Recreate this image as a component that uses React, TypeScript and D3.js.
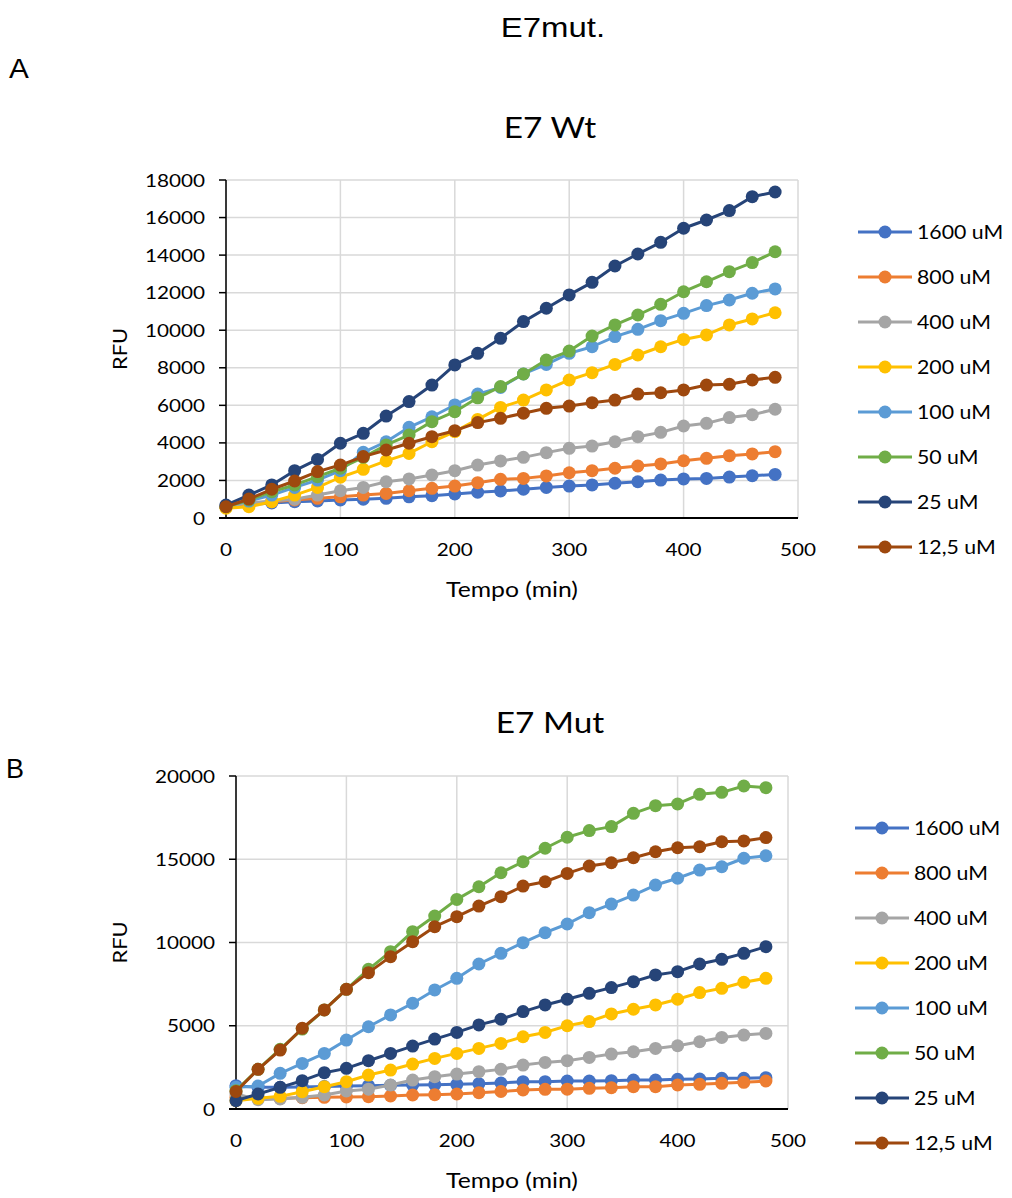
import React from "react";
import * as d3 from "d3";

const times = [0, 20, 40, 60, 80, 100, 120, 140, 160, 180, 200, 220, 240, 260, 280, 300, 320, 340, 360, 380, 400, 420, 440, 460, 480];
const seriesNames = ["1600 uM", "800 uM", "400 uM", "200 uM", "100 uM", "50 uM", "25 uM", "12,5 uM"];
const seriesColors = ["#4472C4", "#ED7D31", "#A5A5A5", "#FFC000", "#5B9BD5", "#70AD47", "#264478", "#9E480E"];

// E7 Wt
const wt1600 = [600, 720, 800, 870, 905, 960, 1000, 1050, 1130, 1190, 1280, 1370, 1440, 1530, 1630, 1700, 1760, 1850, 1930, 2020, 2080, 2110, 2180, 2250, 2320];
const wt800 = [620, 760, 870, 960, 1050, 1130, 1220, 1310, 1450, 1580, 1700, 1880, 2060, 2110, 2240, 2410, 2520, 2650, 2770, 2880, 3050, 3180, 3320, 3410, 3530];
const wt400 = [620, 800, 900, 1000, 1220, 1450, 1630, 1930, 2080, 2290, 2520, 2820, 3040, 3230, 3480, 3710, 3830, 4060, 4330, 4560, 4900, 5040, 5350, 5500, 5790];
const wt200 = [520, 600, 870, 1220, 1630, 2170, 2590, 3040, 3440, 4060, 4600, 5250, 5890, 6280, 6820, 7350, 7740, 8180, 8680, 9120, 9510, 9750, 10280, 10600, 10930];
const wt100 = [650, 900, 1220, 1630, 2020, 2520, 3500, 4060, 4830, 5390, 6020, 6600, 6950, 7670, 8180, 8770, 9120, 9660, 10050, 10510, 10900, 11310, 11610, 11970, 12200];
const wt50 = [600, 960, 1400, 1760, 2200, 2650, 3230, 3890, 4420, 5130, 5660, 6400, 7000, 7670, 8410, 8890, 9690, 10280, 10810, 11380, 12050, 12580, 13120, 13600, 14180];
const wt25 = [690, 1220, 1760, 2520, 3120, 3980, 4510, 5430, 6200, 7080, 8150, 8770, 9570, 10460, 11170, 11880, 12550, 13420, 14060, 14680, 15430, 15870, 16370, 17110, 17360];
const wt12 = [600, 1010, 1530, 1970, 2470, 2820, 3270, 3620, 3980, 4330, 4650, 5080, 5310, 5580, 5840, 5960, 6140, 6280, 6600, 6670, 6820, 7080, 7120, 7350, 7490];

// E7 Mut
const mut1600 = [1400, 1300, 1300, 1320, 1350, 1380, 1400, 1420, 1440, 1460, 1480, 1520, 1560, 1640, 1640, 1680, 1680, 1700, 1740, 1740, 1780, 1800, 1840, 1840, 1880];
const mut800 = [700, 640, 640, 680, 700, 720, 740, 780, 840, 860, 900, 980, 1050, 1140, 1180, 1190, 1240, 1280, 1340, 1340, 1440, 1480, 1540, 1600, 1680];
const mut400 = [900, 560, 600, 700, 840, 1080, 1190, 1440, 1740, 1940, 2100, 2240, 2380, 2640, 2800, 2900, 3100, 3300, 3440, 3640, 3800, 4040, 4300, 4440, 4540];
const mut200 = [500, 640, 760, 1040, 1340, 1640, 2040, 2340, 2700, 3040, 3340, 3640, 3940, 4340, 4600, 5000, 5250, 5710, 5990, 6250, 6590, 6990, 7250, 7610, 7850];
const mut100 = [1300, 1380, 2140, 2740, 3340, 4140, 4940, 5650, 6350, 7150, 7850, 8710, 9350, 9990, 10590, 11110, 11790, 12310, 12850, 13450, 13860, 14350, 14550, 15060, 15210];
const mut50 = [1100, 2380, 3590, 4800, 5950, 7190, 8390, 9450, 10650, 11590, 12590, 13350, 14190, 14850, 15660, 16320, 16720, 16960, 17760, 18220, 18320, 18900, 19020, 19400, 19300];
const mut25 = [500, 900, 1300, 1700, 2180, 2440, 2900, 3340, 3780, 4200, 4600, 5050, 5390, 5850, 6250, 6590, 6950, 7290, 7650, 8050, 8250, 8710, 8990, 9350, 9750];
const mut12 = [1050, 2380, 3540, 4850, 5950, 7190, 8190, 9150, 10050, 10950, 11550, 12190, 12750, 13390, 13650, 14150, 14590, 14790, 15090, 15450, 15690, 15750, 16050, 16100, 16300];

const xTicks = [0, 100, 200, 300, 400, 500];
const yTicksA = [0, 2000, 4000, 6000, 8000, 10000, 12000, 14000, 16000, 18000];
const yTicksB = [0, 5000, 10000, 15000, 20000];

const mainTitle = "E7mut.";
const titleA = "E7 Wt";
const titleB = "E7 Mut";
const xLabel = "Tempo (min)";
const yLabel = "RFU";

const FONT = "Lato, 'Open Sans', sans-serif";
const ARIAL = "'Liberation Sans', Arial, sans-serif";
const SX = 1.15;

function T({ x, y, size, anchor = "start", family = FONT, sx = SX, rotate = 0, children }: any) {
  return (
    <text
      transform={`translate(${x},${y}) rotate(${rotate}) scale(${sx},1)`}
      textAnchor={anchor}
      fontFamily={family}
      fontSize={size}
      fill="#000"
    >
      {children}
    </text>
  );
}

type ChartProps = {
  title: string;
  data: number[][];
  yTicks: number[];
  yMax: number;
  x0: number; x1: number; y0: number; y1: number;
  titleY: number;
  legendX: number; legendY: number;
};

function Chart({ title, data, yTicks, yMax, x0, x1, y0, y1, titleY, legendX, legendY }: ChartProps) {
  const x = d3.scaleLinear().domain([0, 500]).range([x0, x1]);
  const y = d3.scaleLinear().domain([0, yMax]).range([y1, y0]);
  const line = d3.line<number>().x((_, i) => x(times[i])).y((v) => y(v));
  const cx = (x0 + x1) / 2;
  return (
    <g>
      <T x={550} y={titleY} size={29} anchor="middle">{title}</T>
      {yTicks.map((t) => (
        <line key={"gy" + t} x1={x0} x2={x1} y1={y(t)} y2={y(t)} stroke="#d9d9d9" strokeWidth={1.5} />
      ))}
      {xTicks.map((t) => (
        <line key={"gx" + t} x1={x(t)} x2={x(t)} y1={y0} y2={y1} stroke="#d9d9d9" strokeWidth={1.5} />
      ))}
      <line x1={x0} x2={x0} y1={y0} y2={y1} stroke="#000" strokeWidth={1.5} />
      <line x1={x0 - 7} x2={x1} y1={y1} y2={y1} stroke="#000" strokeWidth={2} />
      {yTicks.map((t) => (
        <g key={"ty" + t}>
          <line x1={x0 - 7} x2={x0} y1={y(t)} y2={y(t)} stroke="#000" strokeWidth={1.5} />
          <T x={x0 - 21} y={y(t) + 6.5} size={18} anchor="end">{t}</T>
        </g>
      ))}
      {xTicks.map((t) => (
        <T key={"tx" + t} x={x(t)} y={y1 + 38} size={18} anchor="middle">{t}</T>
      ))}
      <T x={cx} y={y1 + 79} size={21.5} anchor="middle">{xLabel}</T>
      <T x={127} y={(y0 + y1) / 2} size={19} anchor="middle" rotate={-90}>{yLabel}</T>
      {data.map((s, k) => (
        <g key={"s" + k}>
          <path d={line(s) || ""} fill="none" stroke={seriesColors[k]} strokeWidth={3} strokeLinejoin="round" />
          {s.map((v, i) => (
            <circle key={i} cx={x(times[i])} cy={y(v)} r={6.5} fill={seriesColors[k]} />
          ))}
        </g>
      ))}
      {seriesNames.map((n, k) => (
        <g key={"l" + k} transform={`translate(${legendX},${legendY + k * 45})`}>
          <line x1={0} x2={54} y1={0} y2={0} stroke={seriesColors[k]} strokeWidth={3} />
          <circle cx={27} cy={0} r={6.5} fill={seriesColors[k]} />
          <T x={59} y={6.5} size={18.5}>{n}</T>
        </g>
      ))}
    </g>
  );
}

export default function App() {
  const dataA = [wt1600, wt800, wt400, wt200, wt100, wt50, wt25, wt12];
  const dataB = [mut1600, mut800, mut400, mut200, mut100, mut50, mut25, mut12];
  return (
    <svg width={1012} height={1198} style={{ position: "absolute", left: 0, top: 0, background: "#fff" }}>
      <rect width={1012} height={1198} fill="#fff" />
      <T x={553} y={37} size={27} anchor="middle" family={ARIAL} sx={1.22}>{mainTitle}</T>
      <T x={9} y={78} size={27} family={ARIAL} sx={1.1}>A</T>
      <T x={6} y={778} size={27} family={ARIAL} sx={1.0}>B</T>
      <Chart title={titleA} data={dataA} yTicks={yTicksA} yMax={18000} x0={226} x1={798} y0={180} y1={518} titleY={138} legendX={858} legendY={232} />
      <Chart title={titleB} data={dataB} yTicks={yTicksB} yMax={20000} x0={236} x1={788} y0={776} y1={1109} titleY={733} legendX={855} legendY={828} />
    </svg>
  );
}
